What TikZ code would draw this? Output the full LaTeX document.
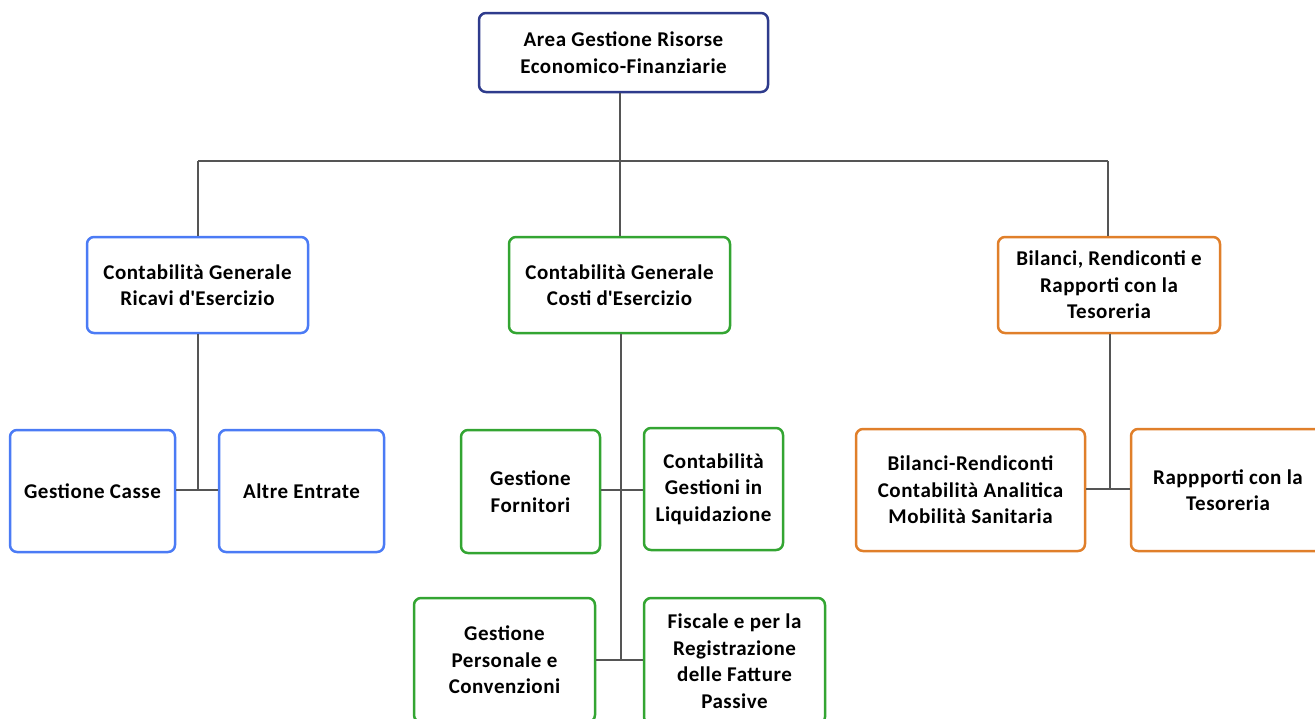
\documentclass[tikz,border=0pt]{standalone}
\usepackage{fontspec}
\setmainfont{Carlito}[LetterSpace=2.5]
\definecolor{navy}{HTML}{2E3B8C}
\definecolor{bblue}{HTML}{4B7BF5}
\definecolor{bgreen}{HTML}{33A532}
\definecolor{borange}{HTML}{E07F2A}
\definecolor{linkgray}{HTML}{555555}
\newcommand{\apos}{\textquotesingle}
\begin{document}
\begin{tikzpicture}[x=1pt,y=-1pt,
  box/.style={draw, rounded corners=7pt, line width=2.5pt, fill=white,
    align=center, inner sep=0pt, text=black,
    font=\bfseries\fontsize{21}{26.5}\selectfont},
  link/.style={draw=linkgray, line width=1.6pt}]
\useasboundingbox (0,0) rectangle (1315,718);

% junction points of the connector tree
\coordinate (bL) at (198,161);
\coordinate (bM) at (620,161);
\coordinate (bR) at (1108,161);
\coordinate (jL) at (198,490);
\coordinate (jM1) at (621,490);
\coordinate (jM2) at (621,660);
\coordinate (jR) at (1110,489);

% top level
\node[box, draw=navy, minimum width=289, minimum height=79] (top) at (623.5,52.5)
  {Area Gestione Risorse\\Economico-Finanziarie};

% second level
\node[box, draw=bblue, minimum width=221, minimum height=96] (ricavi) at (197.5,285)
  {Contabilità Generale\\Ricavi d\apos Esercizio};
\node[box, draw=bgreen, minimum width=221, minimum height=96] (costi) at (619.5,285)
  {Contabilità Generale\\Costi d\apos Esercizio};
\node[box, draw=borange, minimum width=222, minimum height=96] (bilanci) at (1109,285)
  {Bilanci, Rendiconti e\\Rapporti con la\\Tesoreria};

% third level, left branch
\node[box, draw=bblue, minimum width=165, minimum height=122] (casse) at (92.5,491)
  {Gestione Casse};
\node[box, draw=bblue, minimum width=165, minimum height=122] (altre) at (301.5,491)
  {Altre Entrate};

% third level, middle branch
\node[box, draw=bgreen, minimum width=139, minimum height=123] (fornitori) at (530.5,491.5)
  {Gestione\\Fornitori};
\node[box, draw=bgreen, minimum width=139, minimum height=122] (liquid) at (713.5,489)
  {Contabilità\\Gestioni in\\Liquidazione};
\node[box, draw=bgreen, minimum width=181, minimum height=124] (personale) at (504.5,660)
  {Gestione\\Personale e\\Convenzioni};
\node[box, draw=bgreen, minimum width=181, minimum height=126] (fiscale) at (734.5,661)
  {Fiscale e per la\\Registrazione\\delle Fatture\\Passive};

% third level, right branch
\node[box, draw=borange, minimum width=229, minimum height=122] (rendiconti) at (970.5,490)
  {Bilanci-Rendiconti\\Contabilità Analitica\\Mobilità Sanitaria};
\node[box, draw=borange, minimum width=194, minimum height=122] (tesoreria) at (1228,490)
  {Rappporti con la\\Tesoreria};

% connectors
\draw[link] (bL) -- (bR);
\draw[link] (top.south -| bM) -- (bM) -- (costi.north -| bM);
\draw[link] (bL) -- (ricavi.north -| bL);
\draw[link] (bR) -- (bilanci.north -| bR);

\draw[link] (ricavi.south -| jL) -- (jL);
\draw[link] (casse.east |- jL) -- (altre.west |- jL);

\draw[link] (costi.south -| jM1) -- (jM2);
\draw[link] (fornitori.east |- jM1) -- (liquid.west |- jM1);
\draw[link] (personale.east |- jM2) -- (fiscale.west |- jM2);

\draw[link] (bilanci.south -| jR) -- (jR);
\draw[link] (rendiconti.east |- jR) -- (tesoreria.west |- jR);
\end{tikzpicture}
\end{document}
